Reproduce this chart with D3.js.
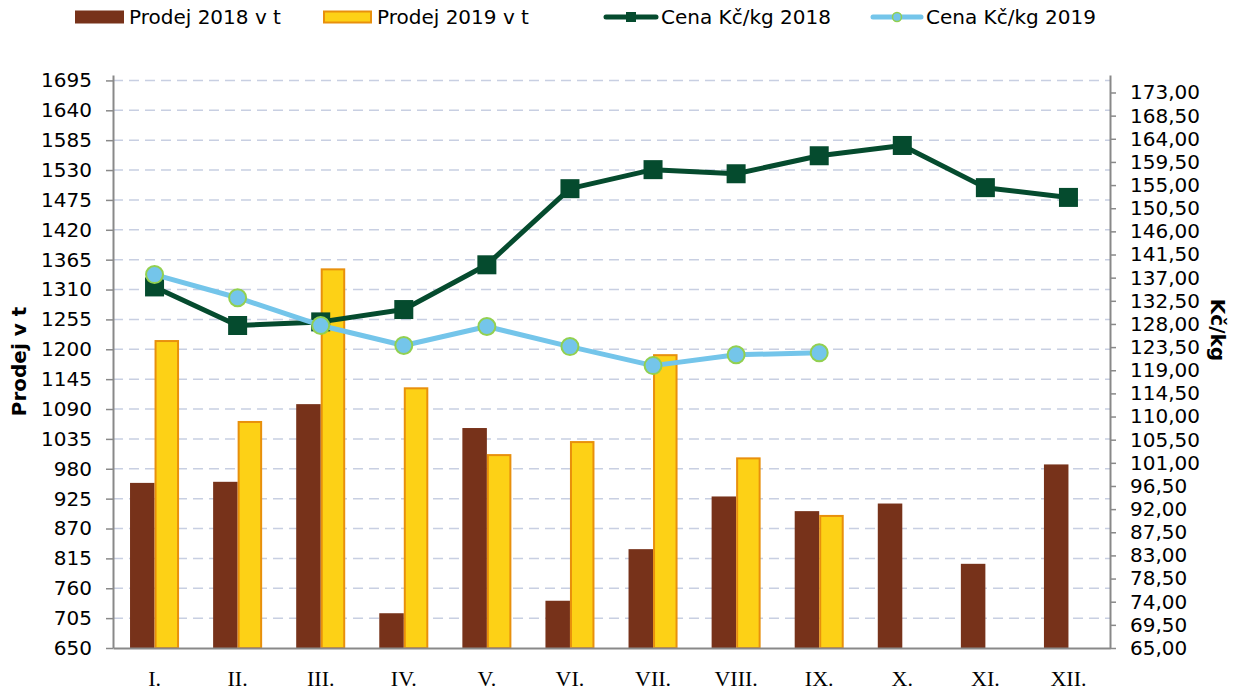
<!DOCTYPE html>
<html>
<head>
<meta charset="utf-8">
<script src="https://cdn.jsdelivr.net/npm/d3@7"></script>
<style>
  body { margin: 0; background: #ffffff; }
  svg { display: block; font-family: "DejaVu Sans", Verdana, sans-serif; }
</style>
</head>
<body>
<svg id="chart"></svg>
<script>
const width = 1236, height = 690
const margin = { top: 75, bottom: 42, left: 113, right: 126 }

// data
const months = ["I.", "II.", "III.", "IV.", "V.", "VI.", "VII.", "VIII.", "IX.", "X.", "XI.", "XII."]
const sales2018 = [954, 956, 1099, 714, 1055, 737, 832, 929, 902, 916, 805, 988]
const sales2019 = [1217, 1068, 1349, 1130, 1007, 1031, 1191, 1001, 895, null, null, null]
const price2018 = [135.2, 127.7, 128.4, 130.8, 139.5, 154.3, 158.0, 157.2, 160.7, 162.7, 154.5, 152.6]
const price2019 = [137.6, 133.1, 127.7, 123.8, 127.5, 123.6, 119.9, 122.0, 122.4, null, null, null]
const leftTicks = d3.range(650, 1700, 55)
const rightTicks = d3.range(65, 173.1, 4.5)

const c = {
    bar18: "#77321a",
    bar19: "#fdd116",
    bar19Stroke: "#e8900c",
    line18: "#054b2e",
    line19: "#74c5ea",
    marker19Stroke: "#92d050",
    axis: "#898989",
    grid: "#c8cfe2",
}

const svg = d3.select("svg#chart")
    .attr("width", width)
    .attr("height", height)
    .attr("viewBox", [0, 0, width, height])

const xScale = d3.scaleBand()
    .domain(months)
    .range([margin.left, width - margin.right])

const xInner = d3.scaleBand()
    .domain(["2018", "2019"])
    .range([xScale.bandwidth() * 0.205, xScale.bandwidth() * 0.795])

const yLeft = d3.scaleLinear()
    .domain([650, 1705])
    .range([height - margin.bottom, margin.top])

const yRight = d3.scaleLinear()
    .domain([65, 176.4])
    .range([height - margin.bottom, margin.top])

const x0 = xScale.range()[0], x1 = xScale.range()[1]
const yBase = yLeft(650)

// gridlines
svg.append("g")
    .selectAll("line")
    .data(leftTicks.slice(1))
    .join("line")
    .attr("x1", x0)
    .attr("x2", x1)
    .attr("y1", d => yLeft(d))
    .attr("y2", d => yLeft(d))
    .attr("stroke", c.grid)
    .attr("stroke-width", 1.5)
    .attr("stroke-dasharray", "10,6")

// bars
const groups = svg.append("g")
    .selectAll("g")
    .data(months)
    .join("g")
    .attr("transform", d => `translate(${xScale(d)},0)`)

groups.append("rect")
    .attr("x", xInner("2018"))
    .attr("width", xInner.bandwidth())
    .attr("y", (d, i) => yLeft(sales2018[i]))
    .attr("height", (d, i) => yBase - yLeft(sales2018[i]))
    .attr("fill", c.bar18)

groups.filter((d, i) => sales2019[i] != null)
    .append("rect")
    .attr("x", xInner("2019") + 1)
    .attr("width", xInner.bandwidth() - 2)
    .attr("y", d => yLeft(sales2019[months.indexOf(d)]) + 1)
    .attr("height", d => yBase - yLeft(sales2019[months.indexOf(d)]) - 1)
    .attr("fill", c.bar19)
    .attr("stroke", c.bar19Stroke)
    .attr("stroke-width", 2)

// axes
const axisLeft = svg.append("g")
    .attr("transform", `translate(${x0},0)`)
    .call(d3.axisLeft(yLeft).tickValues(leftTicks).tickSize(7).tickPadding(14).tickSizeOuter(0)
        .tickFormat(d3.format("d")))

const axisRight = svg.append("g")
    .attr("transform", `translate(${x1},0)`)
    .call(d3.axisRight(yRight).tickValues(rightTicks).tickSize(6).tickPadding(14).tickSizeOuter(0)
        .tickFormat(d => d3.format(".2f")(d).replace(".", ",")))

const axisBottom = svg.append("g")
    .attr("transform", `translate(0,${yBase})`)
    .call(d3.axisBottom(xScale).tickSize(0).tickPadding(22).tickSizeOuter(0))

for (const a of [axisLeft, axisRight, axisBottom]) {
    a.select(".domain").attr("stroke", c.axis).attr("stroke-width", 2)
    a.selectAll(".tick line").attr("stroke", c.axis).attr("stroke-width", 1.5)
    a.selectAll(".tick text").attr("fill", "#000").style("font-size", "20px")
        .style("font-family", "'DejaVu Sans', Verdana, sans-serif")
}
axisBottom.selectAll(".tick text")
    .style("font-family", "'Liberation Serif', 'Times New Roman', serif")
    .style("font-size", "22px")

// lines
const lineGen = (scaleY) => d3.line()
    .defined(d => d != null)
    .x((d, i) => xScale(months[i]) + xScale.bandwidth() / 2)
    .y(d => scaleY(d))

svg.append("path")
    .datum(price2018)
    .attr("fill", "none")
    .attr("stroke", c.line18)
    .attr("stroke-width", 5)
    .attr("stroke-linejoin", "round")
    .attr("d", lineGen(yRight))

svg.append("g")
    .selectAll("rect")
    .data(price2018)
    .join("rect")
    .attr("x", (d, i) => xScale(months[i]) + xScale.bandwidth() / 2 - 9.5)
    .attr("y", d => yRight(d) - 9.5)
    .attr("width", 19)
    .attr("height", 19)
    .attr("fill", c.line18)

svg.append("path")
    .datum(price2019)
    .attr("fill", "none")
    .attr("stroke", c.line19)
    .attr("stroke-width", 5)
    .attr("stroke-linejoin", "round")
    .attr("d", lineGen(yRight))

svg.append("g")
    .selectAll("circle")
    .data(price2019.map((v, i) => ({ v, m: months[i] })).filter(d => d.v != null))
    .join("circle")
    .attr("cx", d => xScale(d.m) + xScale.bandwidth() / 2)
    .attr("cy", d => yRight(d.v))
    .attr("r", 8.5)
    .attr("fill", c.line19)
    .attr("stroke", c.marker19Stroke)
    .attr("stroke-width", 2)

// axis titles
svg.append("text")
    .attr("transform", `translate(26,${(margin.top + yBase) / 2}) rotate(-90)`)
    .attr("text-anchor", "middle")
    .style("font-size", "20px")
    .style("font-weight", "bold")
    .text("Prodej v t")

svg.append("text")
    .attr("transform", `translate(1211,330) rotate(90)`)
    .attr("text-anchor", "middle")
    .style("font-size", "20px")
    .style("font-weight", "bold")
    .text("Kč/kg")

// legend
const legendY = 17
const legend = svg.append("g").style("font-size", "20px")

legend.append("rect").attr("x", 75).attr("y", legendY - 6.5).attr("width", 49).attr("height", 13)
    .attr("fill", c.bar18)
legend.append("text").attr("x", 129).attr("y", legendY).attr("dy", "0.35em").text("Prodej 2018 v t")

legend.append("rect").attr("x", 324).attr("y", legendY - 5.5).attr("width", 47).attr("height", 11)
    .attr("fill", c.bar19).attr("stroke", c.bar19Stroke).attr("stroke-width", 2)
legend.append("text").attr("x", 377).attr("y", legendY).attr("dy", "0.35em").text("Prodej 2019 v t")

legend.append("line").attr("x1", 606).attr("x2", 656).attr("y1", legendY).attr("y2", legendY)
    .attr("stroke", c.line18).attr("stroke-width", 5).attr("stroke-linecap", "round")
legend.append("rect").attr("x", 626).attr("y", legendY - 5).attr("width", 10).attr("height", 10)
    .attr("fill", c.line18)
legend.append("text").attr("x", 661).attr("y", legendY).attr("dy", "0.35em").text("Cena Kč/kg 2018")

legend.append("line").attr("x1", 873).attr("x2", 921).attr("y1", legendY).attr("y2", legendY)
    .attr("stroke", c.line19).attr("stroke-width", 5).attr("stroke-linecap", "round")
legend.append("circle").attr("cx", 897).attr("cy", legendY).attr("r", 4.5)
    .attr("fill", c.line19).attr("stroke", c.marker19Stroke).attr("stroke-width", 1.5)
legend.append("text").attr("x", 926).attr("y", legendY).attr("dy", "0.35em").text("Cena Kč/kg 2019")
</script>
</body>
</html>
